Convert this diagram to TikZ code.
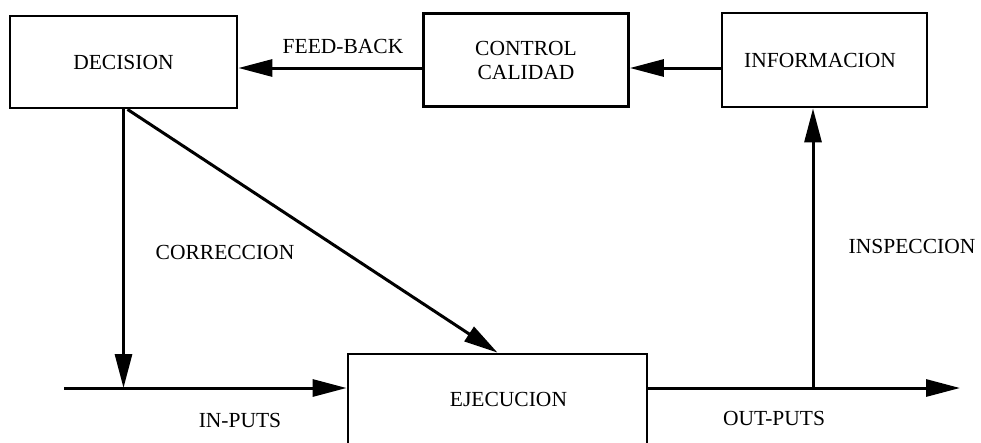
\documentclass[tikz,border=0pt]{standalone}
\usepackage{fontspec}
\setmainfont{Liberation Serif}
\usetikzlibrary{arrows.meta,calc}
\tikzset{
  box/.style={draw, line width=2.8pt, rectangle, inner sep=0pt, align=center},
  conn/.style={line width=3pt, -{Triangle[length=34pt,width=17pt]}},
  plain/.style={line width=3pt},
  lbl/.style={inner sep=0pt}
}
\begin{document}
\begin{tikzpicture}[x=1pt,y=-1pt,font=\fontsize{21.5}{24}\selectfont]
\useasboundingbox (0,0) rectangle (981,442);
\node[box, minimum width=227pt, minimum height=92pt] (dec) at (123.5,62) {DECISION};
\node[box, minimum width=205pt, minimum height=93pt] (ctrl) at (526,60) {CONTROL\\CALIDAD};
\node[box, minimum width=205pt, minimum height=94pt] (info) at (824.5,60) {\hspace*{-9pt}INFORMACION};
\node[box, minimum width=299pt, minimum height=90pt] (ejec) at (497.5,399) {\hspace*{22pt}EJECUCION};
\coordinate (in) at (64,388);
\coordinate (out) at (960,388);
\coordinate (tap) at (813,388);
% feedback arrows
\draw[conn] ([yshift=-8pt]ctrl.west) -- ([yshift=-8pt]ctrl.west -| dec.east);
\draw[conn] ([yshift=-8pt]info.west) -- ([yshift=-8pt]info.west -| ctrl.east);
% correction
\draw[conn] (dec.south) -- (dec.south |- in);
\draw[conn] ([xshift=4pt]dec.south) -- (ejec.north);
% inputs / outputs
\draw[conn] (in) -- (in -| ejec.west);
\draw[conn] (ejec.east |- in) -- (out);
\draw[conn] (tap) -- (tap |- info.south);
% labels
\node[lbl] (fb) at (343,46) {FEED-BACK};
\node[lbl] (corr) at (225,252) {CORRECCION};
\node[lbl] (insp) at (912,246) {INSPECCION};
\node[lbl] (inp) at (240,420) {IN-PUTS};
\node[lbl] (outp) at (774,418) {OUT-PUTS};
\end{tikzpicture}
\end{document}
